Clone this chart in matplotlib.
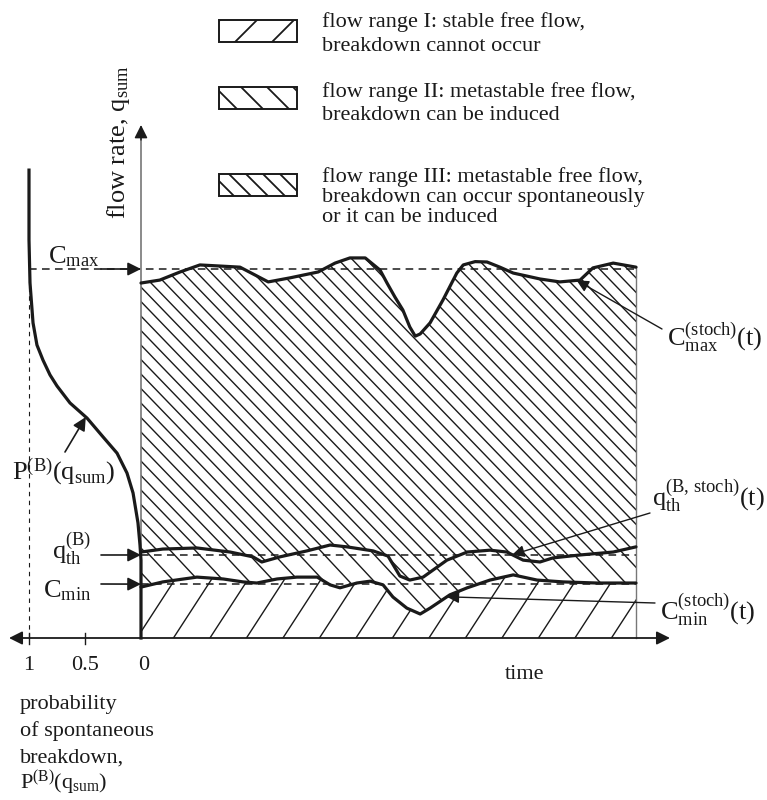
import numpy as np
import matplotlib
matplotlib.use("Agg")
import matplotlib.pyplot as plt
import matplotlib.transforms as mtransforms
from matplotlib.patches import Rectangle, Polygon
from matplotlib.collections import LineCollection

plt.rcParams['font.family'] = ['Liberation Serif', 'DejaVu Serif']
plt.rcParams['mathtext.fontset'] = 'custom'
plt.rcParams['mathtext.rm'] = 'Liberation Serif'
plt.rcParams['mathtext.it'] = 'Liberation Serif:italic'
plt.rcParams['mathtext.bf'] = 'Liberation Serif:bold'

# ---------------- data (time in %, flow rate in % of C_max) ----------------
cmax_t = np.array([0, 3.8, 7.9, 11.9, 16.0, 20.0, 23.0, 25.7, 30.1, 35.8, 39.2, 42.2, 45.3,
                   48.3, 49.7, 51.3, 52.9, 54.3, 55.4, 56.4, 58.4, 61.0, 63.8, 65.1, 67.5,
                   69.9, 72.5, 75.2, 80.6, 84.6, 88.7, 91.3, 95.4, 100])
cmax_q = np.array([96.2, 97.0, 99.2, 101.1, 100.8, 100.5, 98.4, 96.5, 97.6, 99.2, 101.6, 103.0,
                   103.0, 99.7, 96.2, 92.4, 88.9, 84.3, 81.8, 82.4, 85.4, 91.6, 98.9, 101.1,
                   102.0, 101.9, 100.5, 98.9, 97.3, 96.5, 97.0, 100.3, 101.6, 100.5])

qth_t = np.array([0, 4.4, 11.3, 18.0, 22.6, 24.4, 28.1, 33.5, 38.2, 41.6, 46.9, 49.9, 51.1,
                  52.3, 54.3, 57.0, 61.8, 65.9, 70.5, 73.9, 77.2, 80.6, 83.2, 88.7, 95.4, 100])
qth_q = np.array([23.3, 24.1, 24.4, 23.3, 22.0, 20.6, 22.0, 23.6, 25.2, 24.7, 23.6, 22.2, 19.5,
                  16.8, 15.7, 16.5, 21.1, 23.3, 23.8, 23.3, 21.1, 20.6, 21.7, 22.5, 23.3, 24.7])

cmin_t = np.array([0, 4.4, 11.3, 16.6, 20.6, 23.4, 27.5, 31.5, 35.6, 38.2, 40.2, 43.6, 46.3,
                   48.9, 50.9, 53.7, 56.4, 58.4, 62.4, 65.9, 70.5, 75.2, 80.0, 85.3, 92.1, 100])
cmin_q = np.array([13.8, 15.2, 16.5, 16.0, 15.2, 14.9, 16.0, 16.5, 16.5, 14.4, 13.6, 14.9, 15.4,
                   14.4, 11.1, 8.1, 6.5, 8.1, 11.7, 13.6, 15.7, 17.1, 15.7, 15.2, 14.9, 14.9])

prob_q = np.array([126.8, 107.9, 96.2, 85.4, 79.4, 75.3, 71.3, 68.3, 63.7, 59.6, 54.5, 50.1,
                   44.7, 39.3, 31.2, 25.2, 21.1, 0.0])
prob_p = np.array([1.0, 1.0, 0.991, 0.964, 0.929, 0.875, 0.8125, 0.75, 0.634, 0.482, 0.339,
                   0.214, 0.125, 0.071, 0.027, 0.009, 0.0, 0.0])

C_MAX, Q_TH, C_MIN = 100.0, 22.5, 14.6
T_END = 100.0
prob_ticks = [1, 0.5, 0]
prob_tick_labels = ["1", "0.5", "0"]

legend_texts = [
    ["flow range I: stable free flow,", "breakdown cannot occur"],
    ["flow range II: metastable free flow,", "breakdown can be induced"],
    ["flow range III: metastable free flow,", "breakdown can occur spontaneously",
     "or it can be induced"],
]
bottom_texts = ["probability", "of spontaneous", "breakdown,",
                r"$\mathrm{P}^{(\mathrm{B})}(\mathrm{q}_{\mathrm{sum}})$"]

# ---------------- layout ----------------
W, H = 767, 800
X0, TX, PX = 141.0, 4.95, 112.0     # pixel of t=0 ; px per time unit ; px per prob unit
Y0, QY = 638.0, 3.69                # pixel of q=0 ; px per flow unit
INK = '#1a1a1a'

fig = plt.figure(figsize=(W / 100, H / 100), dpi=100)
ax = fig.add_axes([0, 0, 1, 1])
ax.set_xlim(-X0 / TX, (W - X0) / TX)
ax.set_ylim((Y0 - H) / QY, Y0 / QY)
ax.axis('off')
axp = fig.add_axes([0, 0, 1, 1])
axp.set_xlim(X0 / PX, (X0 - W) / PX)
axp.set_ylim((Y0 - H) / QY, Y0 / QY)
axp.axis('off')

pix = mtransforms.Affine2D().scale(1 / W, -1 / H).translate(0, 1) + fig.transFigure


def ptext(x, y, s, size=16, ha='left', va='baseline', **kw):
    ax.text(x, y, s, transform=pix, fontsize=size, ha=ha, va=va, color=INK, **kw)


def hatch(clip_patch, angle, spacing, phase=0.0, lw=1.0):
    """Parallel lines (angle in degrees, + = '\\', - = '/') clipped to a patch."""
    ax.add_patch(clip_patch)
    th = np.deg2rad(angle)
    dx, dy = np.cos(th), np.sin(th)
    L = 2500
    segs = [[(c - L * dx, 400 - L * dy), (c + L * dx, 400 + L * dy)]
            for c in np.arange(-1500, 2300, spacing) + phase]
    lc = LineCollection(segs, transform=pix, colors=INK, linewidths=lw)
    ax.add_collection(lc, autolim=False)
    lc.set_clip_path(mtransforms.TransformedPatchPath(clip_patch))


# ---------------- hatched flow ranges ----------------
reg1 = Polygon(np.column_stack([np.concatenate([cmin_t, [T_END, 0]]),
                                np.concatenate([cmin_q, [0, 0]])]),
               closed=True, facecolor='none', edgecolor='none')
reg2 = Polygon(np.column_stack([np.concatenate([qth_t, cmin_t[::-1]]),
                                np.concatenate([qth_q, cmin_q[::-1]])]),
               closed=True, facecolor='none', edgecolor='none')
reg3 = Polygon(np.column_stack([np.concatenate([cmax_t, qth_t[::-1]]),
                                np.concatenate([cmax_q, qth_q[::-1]])]),
               closed=True, facecolor='none', edgecolor='none')
hatch(reg1, -57, 36.5, phase=3)
hatch(reg2, 47, 25, phase=5)
hatch(reg3, 46, 14)

# dashed reference levels
dash = (0, (5, 3.5))
ax.plot([-PX / TX, T_END], [C_MAX, C_MAX], ls=dash, lw=1.1, color=INK)
ax.plot([0, T_END], [Q_TH, Q_TH], ls=dash, lw=1.1, color=INK)
ax.plot([0, T_END], [C_MIN, C_MIN], ls=dash, lw=1.1, color=INK)
axp.plot([1, 1], [0, C_MAX - 3], ls=(0, (4, 4)), lw=0.8, color=INK)

# right boundary
ax.plot([T_END, T_END], [0, cmax_q[-1]], color='#777777', lw=1.0)

# stochastic curves
for t, q in [(cmax_t, cmax_q), (qth_t, qth_q), (cmin_t, cmin_q)]:
    ax.plot(t, q, color=INK, lw=2.3, solid_joinstyle='round', solid_capstyle='round', zorder=5)

# probability curve
axp.plot(prob_p, prob_q, color=INK, lw=2.3, solid_joinstyle='round', zorder=5)

# ---------------- axes ----------------
ax.plot([141, 141], [638, 135], transform=pix, color='#777777', lw=1.2)
ax.annotate('', xy=(141, 125), xycoords=pix, xytext=(141, 140), textcoords=pix,
            arrowprops=dict(arrowstyle='-|>', color=INK, lw=1.0, mutation_scale=20,
                            shrinkA=0, shrinkB=0))
ax.annotate('', xy=(670, 638), xycoords=pix, xytext=(9, 638), textcoords=pix,
            arrowprops=dict(arrowstyle='<|-|>', color=INK, lw=1.3, mutation_scale=20,
                            shrinkA=0, shrinkB=0))
for p, lab in zip(prob_ticks, prob_tick_labels):
    xp = X0 - p * PX
    if p != 0:
        ax.plot([xp, xp], [633, 644], transform=pix, color=INK, lw=1.0)
    ptext(xp + (3 if p == 0 else 0), 670, lab, ha='center')
ptext(525, 679, "time", ha='center')

ax.text(119, 142, r'flow rate, $\mathrm{q}_{\mathrm{sum}}$', transform=pix, rotation=90,
        ha='center', va='center', fontsize=19, color=INK)

# ---------------- left labels with arrows ----------------
arrow_kw = dict(arrowstyle='-|>', color=INK, lw=1.2, mutation_scale=20, shrinkA=0, shrinkB=0)
for lvl, ypx, lab, xl, yb in [(C_MAX, 269, r'$\mathrm{C}_{\mathrm{max}}$', 48, 263),
                              (Q_TH, 555, r'$\mathrm{q}_{\mathrm{th}}^{(\mathrm{B})}$', 52, 559),
                              (C_MIN, 584, r'$\mathrm{C}_{\mathrm{min}}$', 43, 597)]:
    ax.annotate('', xy=(0, lvl), xycoords='data', xytext=(101, ypx), textcoords=pix,
                arrowprops=arrow_kw)
    ptext(xl, yb, lab, size=19)

# P(B) label
q_tip = (Y0 - 417) / QY
p_tip = np.interp(q_tip, prob_q[::-1], prob_p[::-1])
axp.annotate('', xy=(p_tip, q_tip), xycoords='data', xytext=(65, 452), textcoords=pix,
             arrowprops=arrow_kw)
ptext(12, 480, r'$\mathrm{P}^{(\mathrm{B})}(\mathrm{q}_{\mathrm{sum}})$', size=19)

# right-hand labels with leader arrows
lead_kw = dict(arrowstyle='-|>', color=INK, lw=1.0, mutation_scale=18, shrinkA=0, shrinkB=0)
t1 = 88.0
ax.annotate('', xy=(t1, np.interp(t1, cmax_t, cmax_q)), xycoords='data',
            xytext=(662, 329), textcoords=pix, arrowprops=lead_kw, zorder=6)
ptext(667, 345, r'$\mathrm{C}_{\mathrm{max}}^{(\mathrm{stoch})}(\mathrm{t})$', size=19)
t2 = 75.0
ax.annotate('', xy=(t2, np.interp(t2, qth_t, qth_q)), xycoords='data',
            xytext=(650, 513), textcoords=pix, arrowprops=lead_kw, zorder=6)
ptext(652, 506, r'$\mathrm{q}_{\mathrm{th}}^{(\mathrm{B,\,stoch})}(\mathrm{t})$', size=19)
t3 = 61.8
ax.annotate('', xy=(t3, np.interp(t3, cmin_t, cmin_q)), xycoords='data',
            xytext=(655, 603), textcoords=pix, arrowprops=lead_kw, zorder=6)
ptext(660, 620, r'$\mathrm{C}_{\mathrm{min}}^{(\mathrm{stoch})}(\mathrm{t})$', size=19)

# ---------------- legend ----------------
box_tops = [20, 87, 174]
box_hatch = [(-45, 37, 8), (45, 26, 0), (45, 17, 0)]
text_baselines = [[27, 51], [97, 120], [182, 202, 222]]
for top, (ang, sp, ph), lines, bls in zip(box_tops, box_hatch, legend_texts, text_baselines):
    clip = Rectangle((219, top), 78, 22, transform=pix, facecolor='none', edgecolor='none')
    hatch(clip, ang, sp, phase=ph, lw=1.3)
    ax.add_patch(Rectangle((219, top), 78, 22, transform=pix, facecolor='none',
                           edgecolor=INK, lw=1.4))
    for s, b in zip(lines, bls):
        ptext(322, b, s, size=16)

# bottom-left description
for s, b in zip(bottom_texts, [709, 736, 763, 790]):
    ptext(20, b, s, size=16)

fig.savefig("out.png", dpi=100)
